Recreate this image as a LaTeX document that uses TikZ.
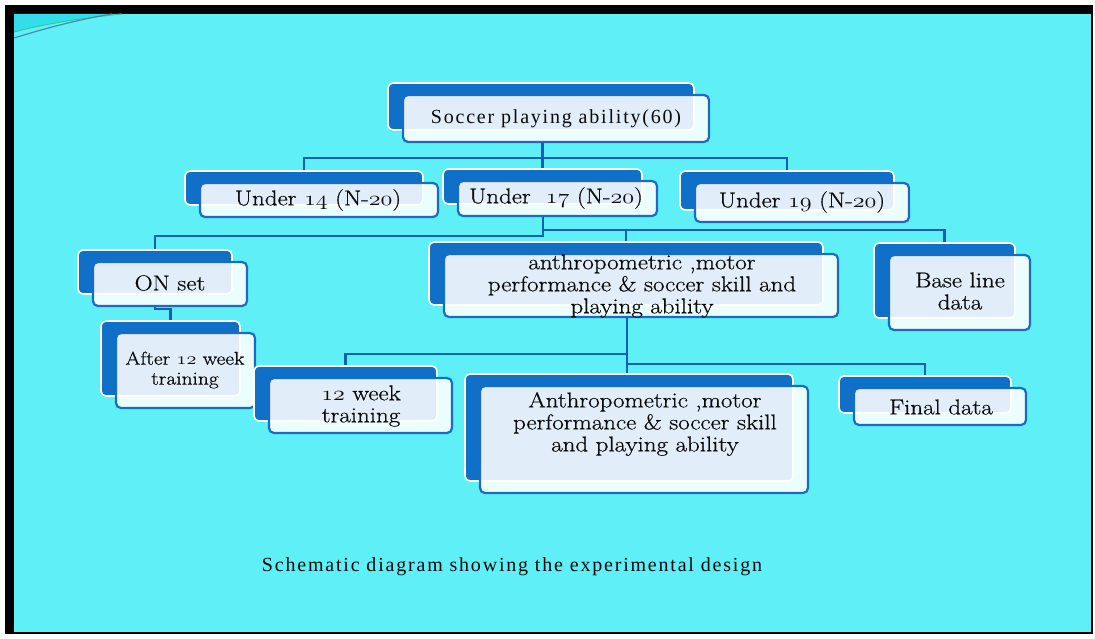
\documentclass[tikz,border=0pt]{standalone}
\usepackage{fontspec}
\usepackage{graphicx}
\newfontfamily\spacedtimes[LetterSpace=9]{Liberation Serif}
\newfontfamily\boxfont[FakeStretch=1.16,FakeBold=0.6]{Latin Modern Roman}
\newcommand\osn[1]{\scalebox{1.16}[1]{\usefont{OML}{cmm}{m}{it}#1}}
\definecolor{bgcyan}{RGB}{94,240,246}
\definecolor{darkcyan}{RGB}{52,221,234}
\definecolor{backblue}{RGB}{16,112,200}
\definecolor{frontline}{RGB}{24,108,196}
\definecolor{connblue}{RGB}{20,96,180}
\definecolor{txt}{RGB}{10,10,10}
\pgfdeclarelayer{bg}
\pgfdeclarelayer{lines}
\pgfsetlayers{bg,lines,main}
\tikzset{
  backbox/.style={draw=white, line width=1.6pt, fill=backblue, rounded corners=5pt, inner sep=0pt, outer sep=0pt},
  frontbox/.style={draw=frontline, line width=2.2pt, fill=white, fill opacity=0.88, rounded corners=5pt, inner sep=0pt, outer sep=0pt},
  conn/.style={draw=connblue, line width=2.6pt},
  lbl/.style={text=txt, font=\boxfont\fontsize{21.5}{22}\selectfont, align=center, inner sep=0pt},
  captxt/.style={text=txt, font=\spacedtimes\fontsize{20}{22}\selectfont, inner sep=0pt},
}
% name, left, top, right, bottom
\newcommand\mybox[5]{%
  \node[backbox, minimum width={(#4-#2)*1pt}, minimum height={(#5-#3)*1pt}] (#1b) at ({(#2+#4)/2-15},{(#3+#5)/2-12}) {};
  \node[frontbox, minimum width={(#4-#2)*1pt}, minimum height={(#5-#3)*1pt}] (#1) at ({(#2+#4)/2},{(#3+#5)/2}) {};
}
\begin{document}
\begin{tikzpicture}[x=1pt,y=-1pt]
\begin{pgfonlayer}{bg}
  \fill[white] (0,0) rectangle (1095,639);
  \fill[black] (5,5) rectangle (1093,634);
  \fill[bgcyan] (14,14) rectangle (1091,632);
  \fill[darkcyan] (14,14) -- (122,14) .. controls (80,18) and (40,25) .. (14,32) -- cycle;
  \draw[line width=1pt, draw={rgb,255:red,60;green,200;blue,150}] (14,32) .. controls (40,25) and (80,18) .. (122,14);
  \draw[line width=1.2pt, draw={rgb,255:red,70;green,140;blue,170}] (14,38) .. controls (40,30) and (75,20) .. (112,14);
\end{pgfonlayer}

\mybox{top}{403}{95}{709}{142}
\mybox{uf}{200}{183}{438}{217}
\mybox{us}{458}{181}{657}{216}
\mybox{un}{695}{183}{909}{222}
\mybox{onset}{93}{262}{247}{306}
\mybox{after}{116}{333}{255}{408}
\mybox{ano}{444}{254}{838}{317}
\mybox{base}{889}{255}{1030}{330}
\mybox{wk}{269}{378}{452}{433}
\mybox{ant}{480}{386}{808}{493}
\mybox{final}{854}{388}{1026}{425}

\node[captxt] (toptxt) at (556,119) {Soccer playing ability(60)};
\node[lbl] (uftxt) at (318,200) {Under \osn{14} (N-\osn{20})};
\node[lbl] (ustxt) at (556,198) {Under\ \ \osn{17} (N-\osn{20})};
\node[lbl] (untxt) at (802,202) {Under \osn{19} (N-\osn{20})};
\node[lbl] (onsettxt) at (170,283) {ON set};
\node[lbl, font=\boxfont\fontsize{18.5}{20}\selectfont] (aftertxt) at (185,370) {After \osn{12} week\\training};
\node[lbl] (anotxt) at (642,286) {anthropometric ,motor\\performance \& soccer skill and\\playing ability};
\node[lbl] (basetxt) at (960,291) {Base line\\data};
\node[lbl] (wktxt) at (361,406) {\osn{12} week\\training};
\node[lbl] (anttxt) at (645,424) {Anthropometric ,motor\\performance \& soccer skill\\and playing ability};
\node[lbl] (finaltxt) at (941,407) {Final data};
\node[captxt] (caption) at (512,567) {Schematic diagram showing the experimental design};

\coordinate (j1) at (542,158);
\coordinate (j2) at (543,236);
\coordinate (j3) at (543,230);
\coordinate (j4) at (155,309);
\coordinate (j5) at (627,354);
\coordinate (j6) at (627,364);
\begin{pgfonlayer}{lines}
  \draw[conn] (top.south -| usb.north) -- (usb.north);
  \draw[conn] (ufb.north) |- (j1) -| (unb.north);
  \draw[conn] (us.south -| j2) -- (j2) -| (onsetb.north);
  \draw[conn] (j3) -| (baseb.north);
  \draw[conn] (anob.north) -- (anob.north |- j3);
  \draw[conn] (onset.south -| onsetb.north) -- (j4) -| (afterb.north);
  \draw[conn] (ano.south -| j6) -- (j6) -| (finalb.north);
  \draw[conn] (j5) -| (wkb.north);
  \draw[conn] (j6) -- (j6 |- antb.north);
\end{pgfonlayer}
\end{tikzpicture}
\end{document}
